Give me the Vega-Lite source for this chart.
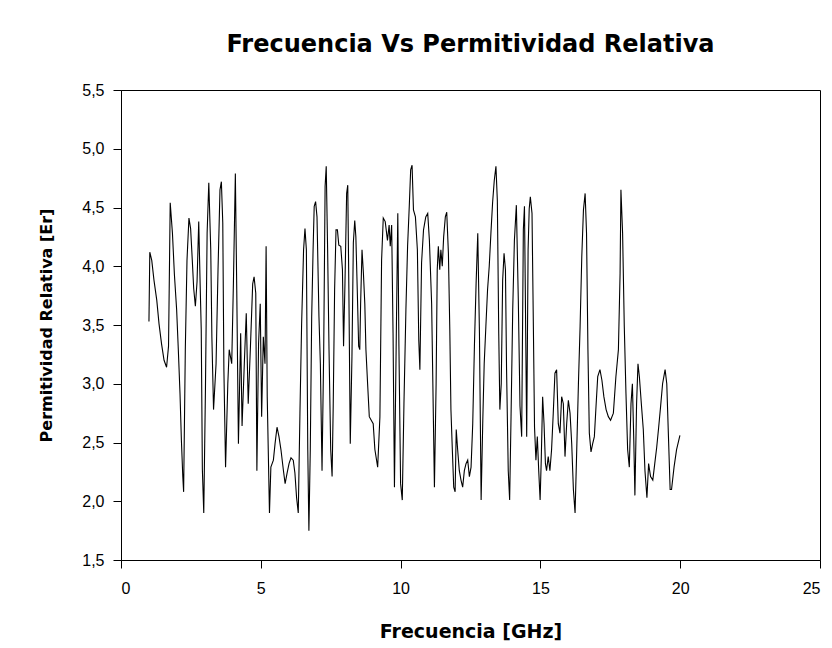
{
  "$schema": "https://vega.github.io/schema/vega-lite/v6.json",
  "width": 699,
  "height": 470,
  "autosize": {"type": "none"},
  "padding": {"left": 121, "top": 90, "right": 12, "bottom": 88},
  "background": "white",
  "title": {
    "text": "Frecuencia Vs Permitividad Relativa",
    "font": "DejaVu Sans",
    "fontSize": 24,
    "fontWeight": "bold",
    "color": "#000000",
    "anchor": "middle",
    "offset": 25
  },
  "config": {
    "view": {"stroke": "#000000", "strokeWidth": 1},
    "axis": {
      "grid": false,
      "domainColor": "#000000",
      "tickColor": "#000000",
      "labelColor": "#000000",
      "titleColor": "#000000",
      "labelFont": "Liberation Sans",
      "titleFont": "DejaVu Sans",
      "labelFontSize": 16,
      "titleFontSize": 19,
      "titleFontWeight": "bold",
      "tickSize": 8
    }
  },
  "data": {
    "values": [
      {"f": 1.00, "er": 3.53}, {"f": 1.03, "er": 4.12}, {"f": 1.10, "er": 4.05}, {"f": 1.18, "er": 3.88},
      {"f": 1.28, "er": 3.71}, {"f": 1.36, "er": 3.51}, {"f": 1.45, "er": 3.34}, {"f": 1.54, "er": 3.20},
      {"f": 1.63, "er": 3.14}, {"f": 1.70, "er": 3.32}, {"f": 1.76, "er": 4.54}, {"f": 1.84, "er": 4.28},
      {"f": 1.91, "er": 3.93}, {"f": 1.99, "er": 3.63}, {"f": 2.05, "er": 3.29}, {"f": 2.11, "er": 2.92},
      {"f": 2.16, "er": 2.52}, {"f": 2.21, "er": 2.21}, {"f": 2.24, "er": 2.08}, {"f": 2.30, "er": 3.29},
      {"f": 2.36, "er": 4.05}, {"f": 2.43, "er": 4.41}, {"f": 2.49, "er": 4.32}, {"f": 2.55, "er": 4.05},
      {"f": 2.60, "er": 3.81}, {"f": 2.66, "er": 3.66}, {"f": 2.72, "er": 3.87}, {"f": 2.78, "er": 4.38},
      {"f": 2.83, "er": 3.85}, {"f": 2.87, "er": 3.46}, {"f": 2.91, "er": 2.27}, {"f": 2.96, "er": 1.90},
      {"f": 3.02, "er": 2.95}, {"f": 3.08, "er": 4.28}, {"f": 3.14, "er": 4.71}, {"f": 3.21, "er": 4.14},
      {"f": 3.25, "er": 3.40}, {"f": 3.31, "er": 2.78}, {"f": 3.40, "er": 3.17}, {"f": 3.47, "er": 3.97},
      {"f": 3.54, "er": 4.65}, {"f": 3.59, "er": 4.72}, {"f": 3.64, "er": 4.37}, {"f": 3.68, "er": 3.12},
      {"f": 3.74, "er": 2.29}, {"f": 3.82, "er": 3.00}, {"f": 3.87, "er": 3.29}, {"f": 3.96, "er": 3.17},
      {"f": 4.02, "er": 3.85}, {"f": 4.09, "er": 4.79}, {"f": 4.14, "er": 3.80}, {"f": 4.20, "er": 2.49},
      {"f": 4.28, "er": 3.43}, {"f": 4.33, "er": 2.64}, {"f": 4.41, "er": 3.17}, {"f": 4.48, "er": 3.60},
      {"f": 4.55, "er": 2.83}, {"f": 4.63, "er": 3.32}, {"f": 4.71, "er": 3.85}, {"f": 4.76, "er": 3.91},
      {"f": 4.82, "er": 3.77}, {"f": 4.86, "er": 2.26}, {"f": 4.92, "er": 3.34}, {"f": 4.98, "er": 3.68},
      {"f": 5.03, "er": 2.72}, {"f": 5.09, "er": 3.40}, {"f": 5.15, "er": 3.17}, {"f": 5.19, "er": 4.17},
      {"f": 5.23, "er": 2.89}, {"f": 5.31, "er": 1.90}, {"f": 5.36, "er": 2.29}, {"f": 5.45, "er": 2.35},
      {"f": 5.51, "er": 2.49}, {"f": 5.58, "er": 2.63}, {"f": 5.65, "er": 2.55}, {"f": 5.72, "er": 2.44},
      {"f": 5.81, "er": 2.26}, {"f": 5.87, "er": 2.15}, {"f": 5.94, "er": 2.24}, {"f": 6.01, "er": 2.32},
      {"f": 6.08, "er": 2.37}, {"f": 6.16, "er": 2.35}, {"f": 6.22, "er": 2.24}, {"f": 6.28, "er": 2.03},
      {"f": 6.34, "er": 1.90}, {"f": 6.40, "er": 2.75}, {"f": 6.46, "er": 3.51}, {"f": 6.53, "er": 4.14},
      {"f": 6.58, "er": 4.32}, {"f": 6.63, "er": 4.14}, {"f": 6.68, "er": 2.44}, {"f": 6.72, "er": 1.75},
      {"f": 6.77, "er": 2.44}, {"f": 6.82, "er": 3.57}, {"f": 6.87, "er": 4.14}, {"f": 6.91, "er": 4.51},
      {"f": 6.96, "er": 4.55}, {"f": 7.01, "er": 4.42}, {"f": 7.08, "er": 3.57}, {"f": 7.13, "er": 3.17},
      {"f": 7.19, "er": 2.26}, {"f": 7.25, "er": 3.29}, {"f": 7.30, "er": 4.68}, {"f": 7.34, "er": 4.85},
      {"f": 7.39, "er": 4.14}, {"f": 7.44, "er": 3.29}, {"f": 7.50, "er": 2.44}, {"f": 7.55, "er": 2.21},
      {"f": 7.59, "er": 2.81}, {"f": 7.64, "er": 3.80}, {"f": 7.69, "er": 4.31}, {"f": 7.74, "er": 4.31},
      {"f": 7.79, "er": 4.18}, {"f": 7.86, "er": 4.17}, {"f": 7.92, "er": 3.97}, {"f": 7.96, "er": 3.32},
      {"f": 8.01, "er": 3.85}, {"f": 8.07, "er": 4.62}, {"f": 8.11, "er": 4.69}, {"f": 8.15, "er": 3.80},
      {"f": 8.20, "er": 2.49}, {"f": 8.26, "er": 3.23}, {"f": 8.31, "er": 4.20}, {"f": 8.36, "er": 4.39},
      {"f": 8.40, "er": 4.25}, {"f": 8.45, "er": 3.80}, {"f": 8.50, "er": 3.32}, {"f": 8.54, "er": 3.29},
      {"f": 8.57, "er": 3.68}, {"f": 8.62, "er": 4.14}, {"f": 8.67, "er": 3.94}, {"f": 8.72, "er": 3.68},
      {"f": 8.76, "er": 3.29}, {"f": 8.82, "er": 3.00}, {"f": 8.88, "er": 2.72}, {"f": 8.95, "er": 2.69},
      {"f": 9.02, "er": 2.66}, {"f": 9.08, "er": 2.44}, {"f": 9.18, "er": 2.29}, {"f": 9.26, "er": 2.72},
      {"f": 9.32, "er": 4.05}, {"f": 9.38, "er": 4.41}, {"f": 9.45, "er": 4.38}, {"f": 9.53, "er": 4.22},
      {"f": 9.59, "er": 4.35}, {"f": 9.63, "er": 4.17}, {"f": 9.68, "er": 4.35}, {"f": 9.73, "er": 3.43},
      {"f": 9.78, "er": 2.12}, {"f": 9.84, "er": 3.29}, {"f": 9.90, "er": 4.45}, {"f": 9.94, "er": 3.32},
      {"f": 10.00, "er": 2.15}, {"f": 10.06, "er": 2.01}, {"f": 10.12, "er": 2.83}, {"f": 10.19, "er": 3.63},
      {"f": 10.25, "er": 4.17}, {"f": 10.31, "er": 4.51}, {"f": 10.36, "er": 4.82}, {"f": 10.41, "er": 4.86},
      {"f": 10.46, "er": 4.48}, {"f": 10.53, "er": 4.42}, {"f": 10.60, "er": 4.14}, {"f": 10.65, "er": 3.37},
      {"f": 10.69, "er": 3.12}, {"f": 10.75, "er": 4.03}, {"f": 10.82, "er": 4.31}, {"f": 10.90, "er": 4.42},
      {"f": 10.97, "er": 4.45}, {"f": 11.03, "er": 4.22}, {"f": 11.11, "er": 3.68}, {"f": 11.21, "er": 2.12},
      {"f": 11.27, "er": 3.00}, {"f": 11.31, "er": 3.97}, {"f": 11.35, "er": 4.17}, {"f": 11.40, "er": 3.97},
      {"f": 11.44, "er": 4.14}, {"f": 11.49, "er": 4.00}, {"f": 11.54, "er": 4.25}, {"f": 11.60, "er": 4.42},
      {"f": 11.65, "er": 4.46}, {"f": 11.71, "er": 4.11}, {"f": 11.76, "er": 3.46}, {"f": 11.80, "er": 2.78},
      {"f": 11.85, "er": 2.44}, {"f": 11.90, "er": 2.12}, {"f": 11.95, "er": 2.08}, {"f": 11.99, "er": 2.61},
      {"f": 12.04, "er": 2.44}, {"f": 12.10, "er": 2.26}, {"f": 12.16, "er": 2.18}, {"f": 12.22, "er": 2.12},
      {"f": 12.28, "er": 2.26}, {"f": 12.34, "er": 2.32}, {"f": 12.40, "er": 2.35}, {"f": 12.46, "er": 2.21},
      {"f": 12.52, "er": 2.29}, {"f": 12.58, "er": 2.66}, {"f": 12.64, "er": 3.32}, {"f": 12.70, "er": 3.85},
      {"f": 12.76, "er": 4.28}, {"f": 12.82, "er": 3.43}, {"f": 12.88, "er": 2.01}, {"f": 12.94, "er": 2.69},
      {"f": 12.99, "er": 3.17}, {"f": 13.05, "er": 3.49}, {"f": 13.11, "er": 3.80}, {"f": 13.17, "er": 4.00},
      {"f": 13.23, "er": 4.28}, {"f": 13.29, "er": 4.54}, {"f": 13.35, "er": 4.73}, {"f": 13.41, "er": 4.85},
      {"f": 13.46, "er": 4.56}, {"f": 13.51, "er": 3.43}, {"f": 13.55, "er": 2.78}, {"f": 13.60, "er": 3.00},
      {"f": 13.65, "er": 3.88}, {"f": 13.70, "er": 4.11}, {"f": 13.75, "er": 3.97}, {"f": 13.79, "er": 3.12},
      {"f": 13.85, "er": 2.26}, {"f": 13.90, "er": 2.01}, {"f": 13.95, "er": 2.72}, {"f": 14.01, "er": 3.63},
      {"f": 14.07, "er": 4.22}, {"f": 14.14, "er": 4.52}, {"f": 14.21, "er": 3.71}, {"f": 14.27, "er": 2.81},
      {"f": 14.33, "er": 2.55}, {"f": 14.39, "er": 4.31}, {"f": 14.43, "er": 4.51}, {"f": 14.46, "er": 3.80},
      {"f": 14.51, "er": 2.55}, {"f": 14.56, "er": 4.14}, {"f": 14.60, "er": 4.49}, {"f": 14.64, "er": 4.59},
      {"f": 14.70, "er": 4.45}, {"f": 14.75, "er": 3.46}, {"f": 14.79, "er": 2.63}, {"f": 14.84, "er": 2.35},
      {"f": 14.89, "er": 2.55}, {"f": 14.94, "er": 2.26}, {"f": 14.99, "er": 2.01}, {"f": 15.03, "er": 2.35},
      {"f": 15.08, "er": 2.89}, {"f": 15.13, "er": 2.66}, {"f": 15.18, "er": 2.32}, {"f": 15.22, "er": 2.26},
      {"f": 15.28, "er": 2.38}, {"f": 15.34, "er": 2.26}, {"f": 15.40, "er": 2.44}, {"f": 15.46, "er": 2.75},
      {"f": 15.52, "er": 3.09}, {"f": 15.58, "er": 3.12}, {"f": 15.64, "er": 2.66}, {"f": 15.70, "er": 2.58},
      {"f": 15.76, "er": 2.89}, {"f": 15.82, "er": 2.83}, {"f": 15.88, "er": 2.38}, {"f": 15.94, "er": 2.66},
      {"f": 16.00, "er": 2.86}, {"f": 16.06, "er": 2.75}, {"f": 16.12, "er": 2.49}, {"f": 16.18, "er": 2.10},
      {"f": 16.24, "er": 1.90}, {"f": 16.30, "er": 2.44}, {"f": 16.36, "er": 3.00}, {"f": 16.42, "er": 3.49},
      {"f": 16.48, "er": 4.08}, {"f": 16.54, "er": 4.48}, {"f": 16.60, "er": 4.62}, {"f": 16.65, "er": 4.28},
      {"f": 16.70, "er": 3.29}, {"f": 16.75, "er": 2.58}, {"f": 16.81, "er": 2.42}, {"f": 16.87, "er": 2.49},
      {"f": 16.93, "er": 2.55}, {"f": 16.99, "er": 2.81}, {"f": 17.05, "er": 3.06}, {"f": 17.13, "er": 3.12},
      {"f": 17.20, "er": 3.03}, {"f": 17.27, "er": 2.89}, {"f": 17.35, "er": 2.78}, {"f": 17.43, "er": 2.72},
      {"f": 17.51, "er": 2.69}, {"f": 17.61, "er": 2.75}, {"f": 17.70, "er": 3.06}, {"f": 17.79, "er": 3.29},
      {"f": 17.85, "er": 3.94}, {"f": 17.88, "er": 4.65}, {"f": 17.94, "er": 4.28}, {"f": 18.00, "er": 3.49},
      {"f": 18.06, "er": 2.92}, {"f": 18.12, "er": 2.44}, {"f": 18.18, "er": 2.29}, {"f": 18.24, "er": 2.83},
      {"f": 18.29, "er": 3.00}, {"f": 18.34, "er": 2.52}, {"f": 18.38, "er": 2.05}, {"f": 18.44, "er": 2.83},
      {"f": 18.49, "er": 3.17}, {"f": 18.54, "er": 3.06}, {"f": 18.61, "er": 2.83}, {"f": 18.68, "er": 2.61},
      {"f": 18.74, "er": 2.26}, {"f": 18.81, "er": 2.03}, {"f": 18.87, "er": 2.32}, {"f": 18.94, "er": 2.21},
      {"f": 19.02, "er": 2.18}, {"f": 19.09, "er": 2.32}, {"f": 19.16, "er": 2.46}, {"f": 19.23, "er": 2.63},
      {"f": 19.30, "er": 2.81}, {"f": 19.37, "er": 3.00}, {"f": 19.46, "er": 3.12}, {"f": 19.52, "er": 3.00},
      {"f": 19.58, "er": 2.55}, {"f": 19.64, "er": 2.10}, {"f": 19.69, "er": 2.10}, {"f": 19.78, "er": 2.29},
      {"f": 19.87, "er": 2.44}, {"f": 19.99, "er": 2.56}
    ]
  },
  "mark": {"type": "line", "color": "#000000", "strokeWidth": 1.1, "interpolate": "linear"},
  "encoding": {
    "x": {
      "field": "f",
      "type": "quantitative",
      "scale": {"domain": [0, 25], "nice": false, "zero": false},
      "axis": {"values": [0, 5, 10, 15, 20, 25], "title": "Frecuencia [GHz]", "labelPadding": 12, "titlePadding": 26}
    },
    "y": {
      "field": "er",
      "type": "quantitative",
      "scale": {"domain": [1.5, 5.5], "nice": false, "zero": false},
      "axis": {
        "values": [1.5, 2, 2.5, 3, 3.5, 4, 4.5, 5, 5.5],
        "labelExpr": "replace(format(datum.value, '.1f'), '.', ',')",
        "title": "Permitividad Relativa [Er]",
        "titleFontSize": 16,
        "labelPadding": 9,
        "titlePadding": 27
      }
    }
  }
}
